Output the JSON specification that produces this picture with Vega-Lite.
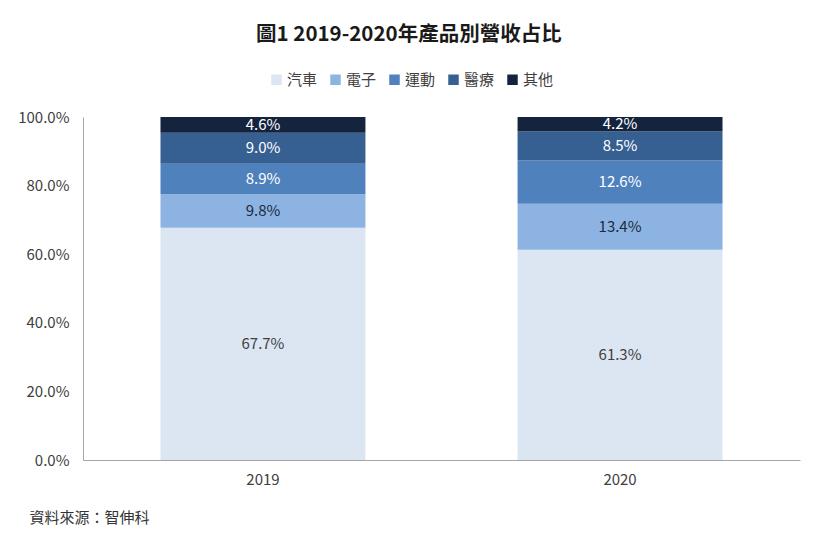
{
  "$schema": "https://vega.github.io/schema/vega-lite/v6.json",
  "width": 717,
  "height": 343,
  "autosize": {"type": "none"},
  "padding": {"left": 83, "top": 117, "right": 20, "bottom": 90},
  "background": "white",
  "title": {
    "text": "圖1 2019-2020年產品別營收占比",
    "anchor": "middle",
    "frame": "bounds",
    "font": "Noto Sans CJK TC",
    "fontSize": 20.5,
    "fontWeight": "bold",
    "color": "#1a1a1a",
    "offset": 27
  },
  "data": {
    "values": [
      {"year": "2019", "cat": "汽車", "ord": 1, "value": 0.677},
      {"year": "2019", "cat": "電子", "ord": 2, "value": 0.098},
      {"year": "2019", "cat": "運動", "ord": 3, "value": 0.089},
      {"year": "2019", "cat": "醫療", "ord": 4, "value": 0.090},
      {"year": "2019", "cat": "其他", "ord": 5, "value": 0.046},
      {"year": "2020", "cat": "汽車", "ord": 1, "value": 0.613},
      {"year": "2020", "cat": "電子", "ord": 2, "value": 0.134},
      {"year": "2020", "cat": "運動", "ord": 3, "value": 0.126},
      {"year": "2020", "cat": "醫療", "ord": 4, "value": 0.085},
      {"year": "2020", "cat": "其他", "ord": 5, "value": 0.042}
    ]
  },
  "transform": [
    {"stack": "value", "groupby": ["year"], "sort": [{"field": "ord", "order": "ascending"}], "as": ["y0", "y1"]},
    {"calculate": "(datum.y0 + datum.y1) / 2", "as": "mid"}
  ],
  "encoding": {
    "x": {
      "field": "year",
      "type": "nominal",
      "scale": {"paddingInner": 0.426, "paddingOuter": 0.217},
      "axis": {
        "labelAngle": 0,
        "ticks": false,
        "domainColor": "#a6a6a6",
        "labelFont": "Noto Sans CJK TC",
        "labelFontSize": 15,
        "labelColor": "#404040",
        "labelPadding": 12,
        "title": "資料來源：智伸科",
        "titleFont": "Noto Sans CJK TC",
        "titleFontSize": 15,
        "titleFontWeight": "normal",
        "titleColor": "#333333",
        "titleAnchor": "start",
        "titleAlign": "left",
        "titleBaseline": "middle",
        "titleX": -54,
        "titleY": 57
      }
    }
  },
  "layer": [
    {
      "mark": {"type": "bar"},
      "encoding": {
        "y": {
          "field": "y0",
          "type": "quantitative",
          "scale": {"domain": [0, 1], "nice": false},
          "axis": {
            "format": ".1%",
            "values": [0, 0.2, 0.4, 0.6, 0.8, 1.0],
            "ticks": false,
            "grid": false,
            "domainColor": "#a6a6a6",
            "labelFont": "Noto Sans CJK TC",
            "labelFontSize": 15,
            "labelColor": "#404040",
            "labelPadding": 14,
            "title": null
          }
        },
        "y2": {"field": "y1"},
        "color": {
          "field": "cat",
          "type": "nominal",
          "scale": {
            "domain": ["汽車", "電子", "運動", "醫療", "其他"],
            "range": ["#dce6f2", "#8db3e2", "#4f81bd", "#376092", "#14243f"]
          },
          "legend": {
            "title": null,
            "orient": "none",
            "direction": "horizontal",
            "legendX": 186,
            "legendY": -45,
            "symbolType": "square",
            "symbolSize": 110,
            "symbolStrokeWidth": 0,
            "labelFont": "Noto Sans CJK TC",
            "labelFontSize": 15,
            "labelColor": "#404040",
            "labelOffset": 3,
            "columnPadding": 10
          }
        }
      }
    },
    {
      "mark": {"type": "text", "font": "Noto Sans CJK TC", "fontSize": 15, "baseline": "middle", "align": "center"},
      "encoding": {
        "y": {"field": "mid", "type": "quantitative"},
        "text": {"field": "value", "type": "quantitative", "format": ".1%"},
        "color": {
          "condition": [
            {"test": "datum.cat === '汽車'", "value": "#404040"},
            {"test": "datum.cat === '電子'", "value": "#1c2a3e"}
          ],
          "value": "#ffffff"
        }
      }
    }
  ],
  "config": {
    "view": {"stroke": null}
  }
}
